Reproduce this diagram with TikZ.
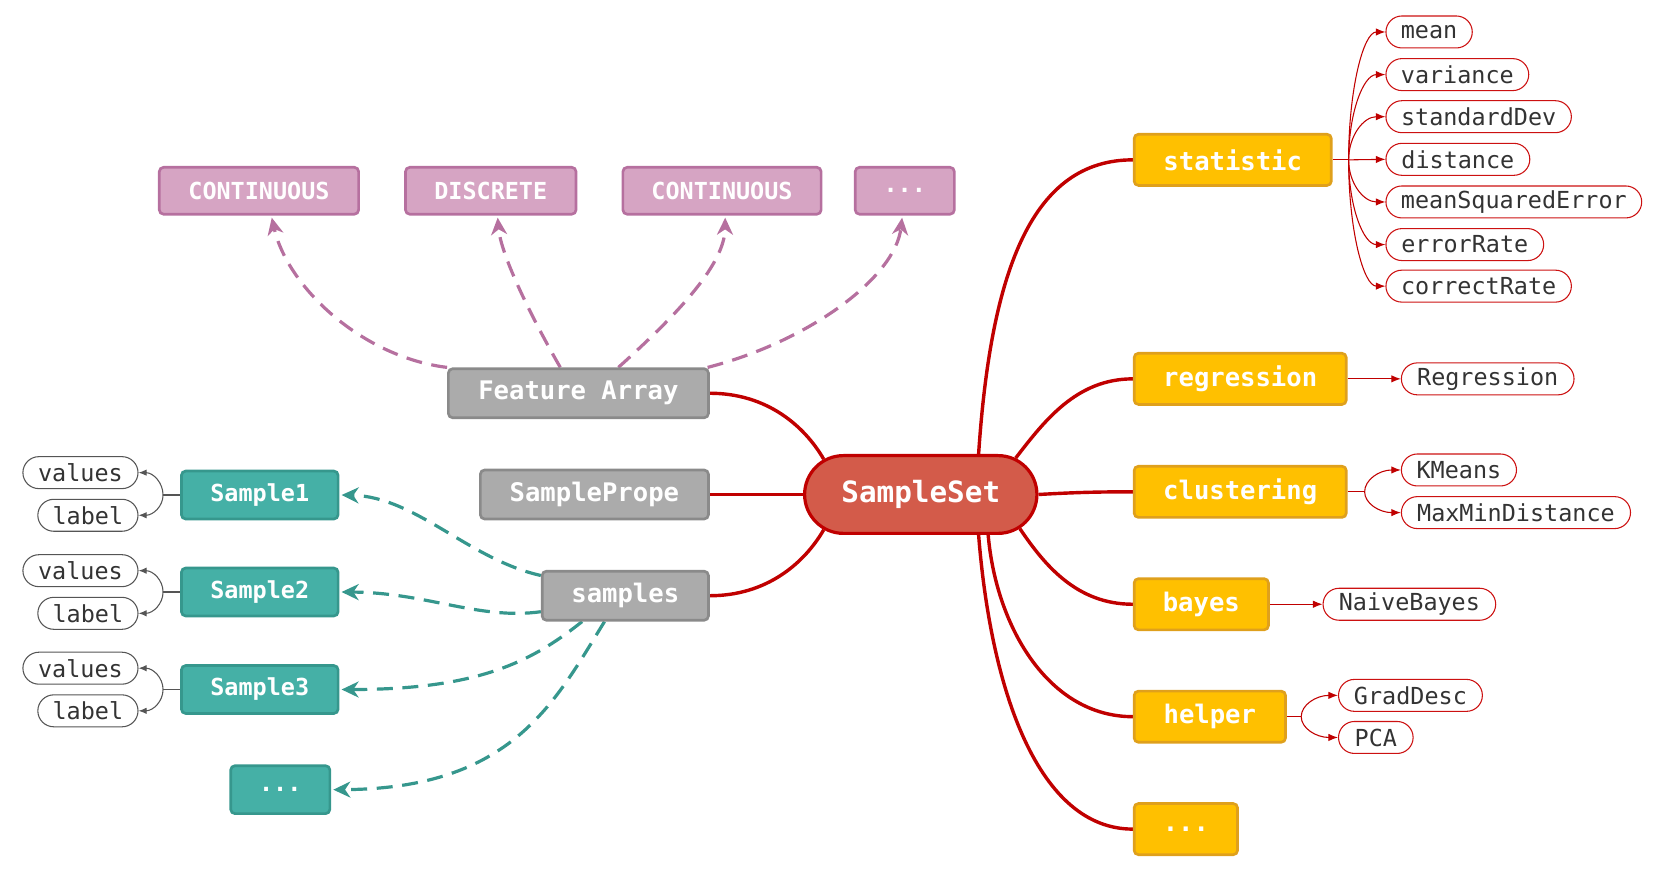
\documentclass[tikz,border=0pt]{standalone}
\usepackage{fontspec}
\setmainfont{DejaVu Sans Mono}
\usetikzlibrary{arrows.meta,shapes.misc,backgrounds,calc}
\definecolor{pinkfill}{HTML}{D6A4C3}
\definecolor{pinkdraw}{HTML}{B6709F}
\definecolor{grayfill}{HTML}{ABABAB}
\definecolor{graydraw}{HTML}{8A8A8A}
\definecolor{tealfill}{HTML}{45B0A6}
\definecolor{tealdraw}{HTML}{36978D}
\definecolor{yelfill}{HTML}{FFC000}
\definecolor{yeldraw}{HTML}{DFA01C}
\definecolor{ssfill}{HTML}{D35B4A}
\definecolor{conred}{HTML}{C00000}
\definecolor{leafred}{HTML}{CC1111}
\definecolor{leafblack}{HTML}{555555}
\definecolor{leaftext}{HTML}{333333}
\newcommand{\brc}[4]{%
  \draw[#1] (#2) .. controls ($(#2)!0.55!(#2 |- #3.#4)$) and ($(#2 |- #3.#4)!0.4!(#3.#4)$) .. (#3.#4);}
\begin{document}
\begin{tikzpicture}[x=1pt,y=-1pt,
  box/.style={draw, rounded corners=4pt, line width=2.5pt, inner sep=0pt, text=white, font=\bfseries\fontsize{22}{26}\selectfont},
  pinkbox/.style={box, fill=pinkfill, draw=pinkdraw, minimum height=44pt},
  tealbox/.style={box, fill=tealfill, draw=tealdraw, minimum height=45pt},
  graybox/.style={box, fill=grayfill, draw=graydraw, minimum height=46pt, font=\bfseries\fontsize{24}{28}\selectfont},
  yelbox/.style={box, fill=yelfill, draw=yeldraw, minimum height=48pt, font=\bfseries\fontsize{24}{28}\selectfont},
  leaf/.style={rounded rectangle, draw, line width=1pt, inner sep=0pt, minimum height=30pt, text=leaftext, font=\fontsize{22}{26}\selectfont},
  rleaf/.style={leaf, draw=leafred},
  kleaf/.style={leaf, draw=leafblack},
  ssnode/.style={rounded rectangle, fill=ssfill, draw=conred, line width=3pt, minimum width=218pt, minimum height=73pt, inner sep=0pt, text=white, font=\bfseries\fontsize{27.5}{32}\selectfont},
  mainline/.style={draw=conred, line width=3.2pt},
  pdash/.style={draw=pinkdraw, line width=3pt, dash pattern=on 15pt off 9pt, -{Stealth[length=16pt,width=15pt,inset=5pt]}},
  tdash/.style={draw=tealdraw, line width=3pt, dash pattern=on 15pt off 9pt, -{Stealth[length=16pt,width=15pt,inset=5pt]}},
  rarr/.style={draw=conred, line width=1pt, -{Latex[length=9pt,width=7pt]}},
  rline/.style={draw=conred, line width=1pt},
  karr/.style={draw=leafblack, line width=1pt, -{Latex[length=7.5pt,width=6pt]}},
  kline/.style={draw=leafblack, line width=1pt}
]
\useasboundingbox (0,0) rectangle (1568,817);

% pink boxes
\node[pinkbox, minimum width=187pt] (c1) at (243,179) {CONTINUOUS};
\node[pinkbox, minimum width=160pt] (dis) at (460.5,179) {DISCRETE};
\node[pinkbox, minimum width=186pt] (c2) at (677.5,179) {CONTINUOUS};
\node[pinkbox, minimum width=93pt] (pd) at (849,179) {...};

% gray boxes
\node[graybox, minimum width=244pt, anchor=east] (fa) at (666,369) {Feature Array};
\node[graybox, minimum width=214pt, anchor=east] (sp) at (666,464) {SamplePrope};
\node[graybox, minimum width=156pt, anchor=east] (smp) at (666,559) {samples};

% teal boxes
\node[tealbox, minimum width=147pt, anchor=west] (s1) at (169,464.5) {Sample1};
\node[tealbox, minimum width=147pt, anchor=west] (s2) at (169,555.5) {Sample2};
\node[tealbox, minimum width=147pt, anchor=west] (s3) at (169,647) {Sample3};
\node[tealbox, minimum width=93pt] (sd) at (263,741) {...};

% black leaves
\node[kleaf, minimum width=108pt, anchor=east] (v1) at (130,443.5) {values};
\node[kleaf, minimum width=94pt, anchor=east] (l1) at (130,483.5) {label};
\node[kleaf, minimum width=108pt, anchor=east] (v2) at (130,535.5) {values};
\node[kleaf, minimum width=94pt, anchor=east] (l2) at (130,575.5) {label};
\node[kleaf, minimum width=108pt, anchor=east] (v3) at (130,627) {values};
\node[kleaf, minimum width=94pt, anchor=east] (l3) at (130,667) {label};

% center
\node[ssnode] (ss) at (864,464) {SampleSet};

% yellow boxes
\node[yelbox, minimum width=185pt, anchor=west] (stat) at (1063,150) {statistic};
\node[yelbox, minimum width=199pt, anchor=west] (reg) at (1063,355.5) {regression};
\node[yelbox, minimum width=199pt, anchor=west] (clu) at (1063,461.5) {clustering};
\node[yelbox, minimum width=126pt, anchor=west] (bay) at (1063,567) {bayes};
\node[yelbox, minimum width=142pt, anchor=west] (hel) at (1063,672.5) {helper};
\node[yelbox, minimum width=97pt, anchor=west] (yd) at (1063,778) {...};

% red leaves
\node[rleaf, minimum width=81pt, anchor=west] (mean) at (1300,30) {mean};
\node[rleaf, minimum width=134pt, anchor=west] (var) at (1300,70) {variance};
\node[rleaf, minimum width=174pt, anchor=west] (sdv) at (1300,109.5) {standardDev};
\node[rleaf, minimum width=135pt, anchor=west] (dst) at (1300,149.5) {distance};
\node[rleaf, minimum width=240pt, anchor=west] (mse) at (1300,189.5) {meanSquaredError};
\node[rleaf, minimum width=148pt, anchor=west] (err) at (1300,229.5) {errorRate};
\node[rleaf, minimum width=174pt, anchor=west] (cor) at (1300,268.5) {correctRate};
\node[rleaf, minimum width=162pt, anchor=west] (rgl) at (1314.5,355.5) {Regression};
\node[rleaf, minimum width=108pt, anchor=west] (km) at (1314.5,441) {KMeans};
\node[rleaf, minimum width=215pt, anchor=west] (mmd) at (1314.5,481) {MaxMinDistance};
\node[rleaf, minimum width=162pt, anchor=west] (nb) at (1241,567) {NaiveBayes};
\node[rleaf, minimum width=135pt, anchor=west] (gd) at (1255.5,652.5) {GradDesc};
\node[rleaf, minimum width=70pt, anchor=west] (pca) at (1255.5,692) {PCA};

% branch points
\coordinate (bS) at (1265.5,150);
\coordinate (bC) at (1280.5,461.5);
\coordinate (bH) at (1221,672.5);
\coordinate (b1) at (153,464.5);
\coordinate (b2) at (153,555.5);
\coordinate (b3) at (153,647);

\begin{pgfonlayer}{background}
% main red connectors
\draw[mainline] (ss.160) .. controls (755,400) and (720,369) .. (fa.east);
\draw[mainline] (ss.west) -- (sp.east);
\draw[mainline] (ss.200) .. controls (755,528) and (720,559) .. (smp.east);
\draw[mainline] (ss.35) .. controls (930,250) and (970,150) .. (stat.west);
\draw[mainline] (ss.21) .. controls (980,395) and (1010,355.5) .. (reg.west);
\draw[mainline] (ss.east) .. controls (1010,462) and (1030,461.5) .. (clu.west);
\draw[mainline] (ss.-19) .. controls (980,530) and (1010,567) .. (bay.west);
\draw[mainline] (ss.-31) .. controls (935,590) and (985,672.5) .. (hel.west);
\draw[mainline] (ss.-35) .. controls (930,650) and (975,778) .. (yd.west);

% pink dashed
\draw[pdash] (fa.north west) .. controls (340,335) and (270,270) .. ([xshift=12pt,yshift=-2pt]c1.south);
\draw[pdash] ([xshift=-17pt]fa.north) .. controls (500,300) and (470,240) .. ([xshift=6.5pt,yshift=-2pt]dis.south);
\draw[pdash] ([xshift=37.5pt]fa.north) .. controls (630,300) and (680,250) .. ([xshift=3pt,yshift=-2pt]c2.south);
\draw[pdash] ([xshift=-2pt]fa.north east) .. controls (760,320) and (840,260) .. ([xshift=-2.5pt,yshift=-2pt]pd.south);

% teal dashed
\draw[tdash] ([yshift=19pt]smp.west) .. controls (440,525) and (390,466) .. ([xshift=2pt]s1.east);
\draw[tdash] ([yshift=-15pt]smp.west) .. controls (450,582) and (400,556) .. ([xshift=2pt]s2.east);
\draw[tdash] ([xshift=-40.5pt]smp.south) .. controls (500,620) and (450,647) .. ([xshift=2pt]s3.east);
\draw[tdash] ([xshift=-19.5pt]smp.south) .. controls (520,660) and (480,740) .. ([xshift=2pt]sd.east);

% statistic leaves
\draw[rline] (stat.east) -- (bS);
\brc{rarr}{bS}{mean}{west}
\brc{rarr}{bS}{var}{west}
\brc{rarr}{bS}{sdv}{west}
\draw[rarr] (bS) -- (dst.west);
\brc{rarr}{bS}{mse}{west}
\brc{rarr}{bS}{err}{west}
\brc{rarr}{bS}{cor}{west}
% regression
\draw[rarr] (reg.east) -- (rgl.west);
% clustering
\draw[rline] (clu.east) -- (bC);
\brc{rarr}{bC}{km}{west}
\brc{rarr}{bC}{mmd}{west}
% bayes
\draw[rarr] (bay.east) -- (nb.west);
% helper
\draw[rline] (hel.east) -- (bH);
\brc{rarr}{bH}{gd}{west}
\brc{rarr}{bH}{pca}{west}

% sample leaves
\draw[kline] (s1.west) -- (b1);
\brc{karr}{b1}{v1}{east}
\brc{karr}{b1}{l1}{east}
\draw[kline] (s2.west) -- (b2);
\brc{karr}{b2}{v2}{east}
\brc{karr}{b2}{l2}{east}
\draw[kline] (s3.west) -- (b3);
\brc{karr}{b3}{v3}{east}
\brc{karr}{b3}{l3}{east}
\end{pgfonlayer}
\end{tikzpicture}
\end{document}
